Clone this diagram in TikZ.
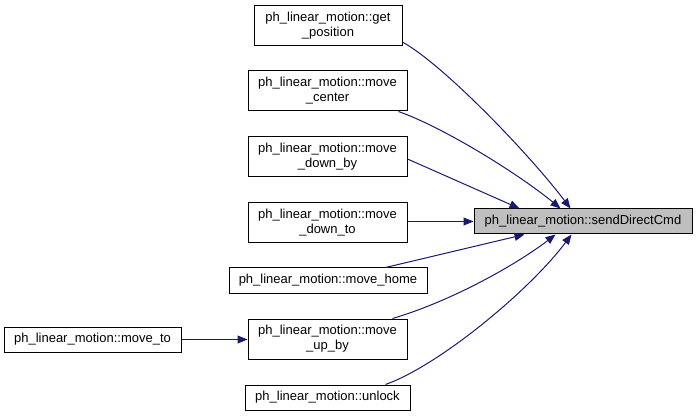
\documentclass[tikz,border=0pt]{standalone}
\usepackage{fontspec}
\setmainfont{Liberation Sans}
\usetikzlibrary{arrows.meta,calc}
\definecolor{edgeblue}{HTML}{191970}
\tikzset{
  fn/.style={draw=black, line width=1pt, fill=white, align=center, inner sep=0pt,
    font=\fontsize{13}{15}\selectfont},
  cur/.style={fn, fill=black!25},
  edge/.style={draw=edgeblue, line width=1pt, -{Triangle[length=10pt,width=8pt]}},
}
\begin{document}
\begin{tikzpicture}[x=1pt,y=-1pt]
\useasboundingbox (0,0) rectangle (697,417);
\node[cur, minimum width=218, minimum height=25] (tgt) at (583,221.5) {ph\_linear\_motion::sendDirectCmd};
\node[fn, minimum width=148, minimum height=40] (gp) at (328,25.5) {ph\_linear\_motion::get\\\_position};
\node[fn, minimum width=159, minimum height=40] (mc) at (327.5,91) {ph\_linear\_motion::move\\\_center};
\node[fn, minimum width=159, minimum height=40] (mdb) at (327.5,157) {ph\_linear\_motion::move\\\_down\_by};
\node[fn, minimum width=159, minimum height=40] (mdt) at (327.5,223) {ph\_linear\_motion::move\\\_down\_to};
\node[fn, minimum width=198, minimum height=25] (mh) at (328,280.5) {ph\_linear\_motion::move\_home};
\node[fn, minimum width=159, minimum height=40] (mub) at (327.5,339) {ph\_linear\_motion::move\\\_up\_by};
\node[fn, minimum width=165, minimum height=25] (ul) at (327.5,397.5) {ph\_linear\_motion::unlock};
\node[fn, minimum width=177, minimum height=25] (mt) at (92.5,339.5) {ph\_linear\_motion::move\_to};

\draw[edge] ($(gp.south east)+(0,-4)$) .. controls (445,66) and (530,155) .. ($(tgt.north west)+(97,0)$);
\draw[edge] ($(mc.south east)+(-9,0)$) .. controls (445,128) and (520,175) .. ($(tgt.north west)+(87,0)$);
\draw[edge] ($(mdb.east)+(0,2)$) -- ($(tgt.north west)+(46,0)$);
\draw[edge] (mdt.east |- tgt.west) -- (tgt.west);
\draw[edge] ($(mh.north east)+(-42,0)$) -- ($(tgt.south west)+(51,0)$);
\draw[edge] ($(mub.north east)+(-15,0)$) .. controls (455,300) and (520,262) .. ($(tgt.south west)+(82,0)$);
\draw[edge] ($(ul.north east)+(-25,0)$) .. controls (440,365) and (530,290) .. ($(tgt.south west)+(98,0)$);
\draw[edge] (mt.east) -- (mt.east -| mub.west);
\end{tikzpicture}
\end{document}
